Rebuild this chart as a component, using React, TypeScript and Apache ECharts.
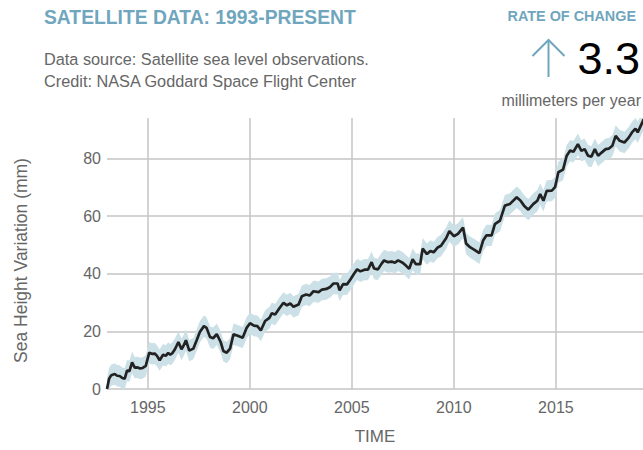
import React, { useEffect, useRef } from "react";
import * as echarts from "echarts";

// Decimal year of each reading
const years: number[] = [
  1993.0, 1993.1, 1993.21, 1993.38, 1993.5, 1993.62, 1993.75, 1993.87, 1993.98, 1994.1,
  1994.23, 1994.36, 1994.5, 1994.62, 1994.75, 1994.9, 1995.07, 1995.2, 1995.34, 1995.45,
  1995.58, 1995.75, 1995.88, 1996.0, 1996.1, 1996.2, 1996.33, 1996.5, 1996.65, 1996.75,
  1996.87, 1997.03, 1997.23, 1997.4, 1997.55, 1997.75, 1997.88, 1998.05, 1998.2, 1998.38,
  1998.57, 1998.7, 1998.87, 1999.03, 1999.2, 1999.44, 1999.65, 1999.85, 2000.01, 2000.2,
  2000.37, 2000.54, 2000.75, 2000.96, 2001.08, 2001.24, 2001.45, 2001.65, 2001.82, 2001.98,
  2002.14, 2002.39, 2002.55, 2002.76, 2002.93, 2003.12, 2003.37, 2003.54, 2003.75, 2003.94,
  2004.1, 2004.3, 2004.4, 2004.57, 2004.76, 2004.93, 2005.09, 2005.26, 2005.42, 2005.62,
  2005.79, 2005.97, 2006.09, 2006.28, 2006.45, 2006.58, 2006.78, 2006.95, 2007.11, 2007.27,
  2007.49, 2007.65, 2007.81, 2007.98, 2008.14, 2008.35, 2008.47, 2008.68, 2008.85, 2009.01,
  2009.21, 2009.37, 2009.62, 2009.78, 2010.0, 2010.2, 2010.45, 2010.6, 2010.79, 2011.03,
  2011.25, 2011.44, 2011.6, 2011.85, 2012.01, 2012.26, 2012.5, 2012.75, 2013.08, 2013.27,
  2013.44, 2013.65, 2013.9, 2014.09, 2014.23, 2014.39, 2014.55, 2014.8, 2014.96, 2015.12,
  2015.35, 2015.53, 2015.7, 2015.86, 2016.08, 2016.25, 2016.41, 2016.58, 2016.74, 2016.91,
  2017.07, 2017.24, 2017.44, 2017.6, 2017.77, 2017.93, 2018.13, 2018.36, 2018.57, 2018.73,
  2018.9, 2019.01, 2019.22, 2019.3,
];

// Sea height variation (mm)
const seaLevel: number[] = [
  0, 3.5, 4.8, 5.2, 4.6, 4.5, 3.8, 3.6, 6.4, 6.2,
  9.2, 7.4, 7.5, 7.1, 7.3, 8, 12.6, 12.2, 12.3, 11.5,
  10, 11.9, 11.5, 12.5, 11.9, 12.4, 13.8, 16.3, 13.8, 15,
  16.9, 13.3, 14, 17, 19.8, 21.8, 21.2, 18, 17.6, 19,
  16.3, 13.2, 12.6, 14, 19, 18.4, 17.8, 21.3, 22.8, 22,
  21.8, 20.3, 23.6, 24.7, 26.3, 25.8, 28, 29.9, 29, 29.7,
  28.5, 29.3, 32.2, 32.8, 32.4, 33.9, 33.6, 34.5, 34.7, 35.4,
  36.6, 36.6, 34.2, 36.4, 36.3, 38, 39.8, 41.5, 40.8, 41.4,
  41.4, 44, 41.8, 41.5, 43.4, 44.6, 44, 44.2, 43.8, 44.6,
  43.8, 42.8, 41.7, 45, 43.3, 43.3, 48.7, 46.8, 47.9, 47.4,
  49.1, 49.7, 52.3, 54.8, 53, 53.8, 56, 50.5, 49.2, 48.2,
  47.1, 51.6, 53.3, 53.3, 57.2, 58.4, 63.6, 64.2, 66.5, 65.3,
  63.6, 62.2, 64.2, 65.3, 67.6, 65.3, 68.7, 68.8, 70, 75.2,
  76.1, 80.9, 82.7, 82.3, 84.9, 82.6, 83.2, 80.9, 80.6, 83.2,
  80.9, 82, 83.2, 83.4, 84.4, 87.8, 86.1, 85.5, 87.2, 89,
  90.3, 89, 92.2, 93.6,
];

// Half width of the uncertainty band (mm)
const uncertaintyMm = 3.7;

const rateOfChange = "3.3";

const FONT = '"Liberation Sans", Arial, Helvetica, sans-serif';
const BLUE = "#6fa6bd";
const GREY = "#666666";

export default function App() {
  const ref = useRef<HTMLDivElement>(null);

  useEffect(() => {
    if (!ref.current) return;
    const chart = echarts.init(ref.current, undefined, { renderer: "svg" });

    const bandData = years.map((y, i) => [y, seaLevel[i] - uncertaintyMm, seaLevel[i] + uncertaintyMm]);
    const line = years.map((y, i) => [y, seaLevel[i]]);

    const renderBand = (params: any, api: any) => {
      if (params.dataIndex !== 0) return null;
      const upper: number[][] = [];
      const lower: number[][] = [];
      for (let i = 0; i < bandData.length; i++) {
        upper.push(api.coord([bandData[i][0], bandData[i][2]]));
        lower.push(api.coord([bandData[i][0], bandData[i][1]]));
      }
      const points = upper.concat(lower.reverse());
      const cs = params.coordSys;
      return {
        type: "polygon",
        shape: { points },
        style: { fill: "#cbe0e7", stroke: "none" },
        clipPath: {
          type: "rect",
          shape: { x: cs.x, y: cs.y, width: cs.width, height: cs.height },
        },
        silent: true,
      };
    };

    chart.setOption({
      animation: false,
      textStyle: { fontFamily: FONT },
      grid: { left: 107, right: 0, top: 118, bottom: 60, containLabel: false },
      xAxis: {
        type: "value",
        min: 1993,
        max: 2019.27,
        splitNumber: 5,
        name: "TIME",
        nameLocation: "middle",
        nameGap: 39,
        nameTextStyle: { fontSize: 17, color: GREY, fontFamily: FONT },
        axisLine: { show: false },
        axisTick: { show: false },
        axisLabel: {
          fontSize: 16,
          color: GREY,
          margin: 10,
          showMinLabel: false,
          showMaxLabel: false,
          formatter: (v: number) => String(v),
        },
        splitLine: {
          show: true,
          showMinLine: false,
          showMaxLine: false,
          lineStyle: { color: "#c4c4c4", width: 1.5 },
        },
      },
      yAxis: {
        type: "value",
        min: 0,
        max: 94,
        interval: 20,
        name: "Sea Height Variation (mm)",
        nameLocation: "middle",
        nameGap: 77,
        nameTextStyle: { fontSize: 17.5, color: GREY, fontFamily: FONT, padding: [0, 14, 0, 0] },
        axisLine: { show: false },
        axisTick: { show: false },
        axisLabel: {
          fontSize: 16,
          color: GREY,
          margin: 6,
          showMaxLabel: false,
          formatter: (v: number) => String(v),
        },
        splitLine: {
          show: true,
          showMaxLine: false,
          lineStyle: { color: "#c4c4c4", width: 1.5 },
        },
      },
      series: [
        {
          type: "custom",
          data: bandData,
          encode: { x: 0, y: [1, 2] },
          renderItem: renderBand,
          silent: true,
          z: 1,
        },
        {
          type: "line",
          data: line,
          symbol: "none",
          lineStyle: { color: "#222222", width: 2.7 },
          z: 5,
        },
      ],
      graphic: [
        {
          type: "text",
          style: {
            text: "SATELLITE DATA: 1993-PRESENT",
            x: 44,
            y: 17.5,
            verticalAlign: "middle",
            font: `bold 19.3px ${FONT}`,
            fill: BLUE,
          },
        },
        {
          type: "text",
          style: {
            text: "Data source: Satellite sea level observations.",
            x: 44,
            y: 58.5,
            verticalAlign: "middle",
            font: `16.3px ${FONT}`,
            fill: GREY,
          },
        },
        {
          type: "text",
          style: {
            text: "Credit: NASA Goddard Space Flight Center",
            x: 44,
            y: 81,
            verticalAlign: "middle",
            font: `16.3px ${FONT}`,
            fill: GREY,
          },
        },
        {
          type: "text",
          style: {
            text: "RATE OF CHANGE",
            x: 636,
            y: 15.5,
            align: "right",
            verticalAlign: "middle",
            font: `bold 14.4px ${FONT}`,
            fill: BLUE,
          },
        },
        {
          type: "text",
          style: {
            text: rateOfChange,
            x: 640,
            y: 58.5,
            align: "right",
            verticalAlign: "middle",
            font: `45px ${FONT}`,
            fill: "#000000",
          },
        },
        {
          type: "text",
          style: {
            text: "millimeters per year",
            x: 641,
            y: 100,
            align: "right",
            verticalAlign: "middle",
            font: `16px ${FONT}`,
            fill: GREY,
          },
        },
        {
          type: "line",
          shape: { x1: 548.5, y1: 40, x2: 548.5, y2: 77 },
          style: { stroke: BLUE, lineWidth: 2 },
        },
        {
          type: "polyline",
          shape: { points: [[532.5, 56], [548.5, 40], [564.5, 56]] },
          style: { stroke: BLUE, lineWidth: 2, fill: "none" },
        },
      ],
    });

    return () => chart.dispose();
  }, []);

  return (
    <div
      ref={ref}
      style={{ position: "fixed", left: 0, top: 0, width: 643, height: 450, background: "#ffffff" }}
    />
  );
}
